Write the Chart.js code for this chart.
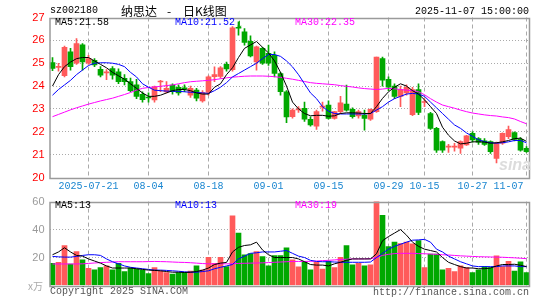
<!DOCTYPE html>
<html><head><meta charset="utf-8">
<script src="https://cdn.jsdelivr.net/npm/chart.js@4"></script>
<style>
html,body{margin:0;padding:0;background:#fff;width:545px;height:300px;overflow:hidden;position:relative;}
.t{position:absolute;white-space:nowrap;font-family:"Liberation Mono","DejaVu Sans Mono",monospace;font-size:10px;line-height:12px;}
#c1{position:absolute;left:0;top:0;}
#c2{position:absolute;left:0;top:190px;}
.ti span{display:inline-block;}
</style></head><body>
<canvas id="c1" width="545" height="200"></canvas>
<canvas id="c2" width="545" height="110"></canvas>
<div class="t" style="left:499px;top:156px;font-family:'Liberation Sans',sans-serif;font-style:italic;font-weight:bold;font-size:16px;line-height:18px;color:#dcdcdc;">sina</div>
<div class="t" style="left:50px;top:5px;color:#000;">sz002180</div>
<div class="t ti" style="left:121px;top:3px;color:#000;font-family:'Noto Sans CJK SC',sans-serif;font-size:12px;line-height:15px;"><span style="width:46px">纳思达</span><span style="width:16px">-</span><span>日K线图</span></div>
<div class="t" style="right:16px;top:6px;color:#000;">2025-11-07 15:00:00</div>
<div class="t" style="left:55px;top:17px;color:#000;">MA5:21.58</div>
<div class="t" style="left:175px;top:17px;color:#0000ff;">MA10:21.52</div>
<div class="t" style="left:235px;top:19px;color:#00a000;font-family:'DejaVu Sans',sans-serif;">↓</div>
<div class="t" style="left:295px;top:17px;color:#ff00ff;">MA30:22.35</div>
<div class="t" style="left:55px;top:200px;color:#000;">MA5:13</div>
<div class="t" style="left:175px;top:200px;color:#0000ff;">MA10:13</div>
<div class="t" style="left:295px;top:200px;color:#ff00ff;">MA30:19</div>
<div class="t" style="left:28px;top:280px;color:#aaa;font-family:'Noto Sans CJK SC',sans-serif;">x万</div>
<div class="t" style="left:50px;top:286px;color:#555;">Copyright 2025 SINA.COM</div>
<div class="t" style="right:16px;top:287px;color:#555;">http://finance.sina.com.cn</div>
<script>
const dates = ['2025-07-11','2025-07-14','2025-07-15','2025-07-16','2025-07-17','2025-07-18','2025-07-21','2025-07-22','2025-07-23','2025-07-24',
'2025-07-25','2025-07-28','2025-07-29','2025-07-30','2025-07-31','2025-08-01','2025-08-04','2025-08-05','2025-08-06','2025-08-07',
'2025-08-08','2025-08-11','2025-08-12','2025-08-13','2025-08-14','2025-08-15','2025-08-18','2025-08-19','2025-08-20','2025-08-21',
'2025-08-22','2025-08-25','2025-08-26','2025-08-27','2025-08-28','2025-08-29','2025-09-01','2025-09-02','2025-09-03','2025-09-04',
'2025-09-05','2025-09-08','2025-09-09','2025-09-10','2025-09-11','2025-09-12','2025-09-15','2025-09-16','2025-09-17','2025-09-18',
'2025-09-19','2025-09-22','2025-09-23','2025-09-24','2025-09-25','2025-09-26','2025-09-29','2025-09-30','2025-10-09','2025-10-10',
'2025-10-13','2025-10-14','2025-10-15','2025-10-16','2025-10-17','2025-10-20','2025-10-21','2025-10-22','2025-10-23','2025-10-24',
'2025-10-27','2025-10-28','2025-10-29','2025-10-30','2025-10-31','2025-11-03','2025-11-04','2025-11-05','2025-11-06','2025-11-07'];

const open = [25.03,24.82,24.45,25.50,25.00,25.80,25.00,25.13,24.73,24.58,
24.77,24.62,24.34,24.20,24.05,23.64,23.52,23.39,24.18,23.74,
24.04,23.95,23.92,23.60,23.83,23.35,23.72,24.41,24.42,24.95,
24.72,26.57,26.37,25.96,25.06,25.65,25.43,25.35,24.55,23.75,
22.66,22.96,23.03,22.55,22.25,23.08,23.17,22.59,22.88,23.21,
22.98,22.69,22.73,22.55,22.88,25.20,24.30,24.00,23.55,23.70,
22.75,23.85,23.28,22.80,22.15,21.57,21.33,21.33,21.28,21.42,
21.93,21.70,21.60,21.57,20.84,21.50,21.79,21.96,21.67,21.28];
const close = [24.77,24.86,25.70,24.85,25.86,25.06,25.20,24.92,24.48,24.62,
24.48,24.19,24.19,23.80,23.55,23.40,23.48,23.97,24.22,23.90,
23.75,23.70,23.88,23.90,23.47,23.72,24.40,24.50,24.80,24.75,
26.55,26.53,25.91,25.32,25.72,25.00,25.00,24.55,23.75,22.65,
22.95,23.00,22.55,22.30,22.88,23.12,22.59,22.88,23.27,22.95,
22.66,22.88,22.59,22.98,25.27,24.26,23.95,23.55,23.85,23.95,
23.85,22.85,23.32,22.15,21.20,21.20,21.37,21.37,21.57,21.82,
21.64,21.55,21.45,21.13,21.50,21.93,22.10,21.67,21.20,21.13];
const high = [25.25,25.00,25.75,25.65,26.08,25.86,25.35,25.20,24.85,24.72,
24.85,24.75,24.50,24.35,24.30,23.75,23.70,24.00,24.25,24.20,
24.10,24.05,24.05,24.00,23.90,23.80,24.45,24.84,24.85,25.05,
26.60,26.81,26.52,26.20,25.75,25.70,25.79,25.50,24.60,23.80,
23.00,23.10,23.30,22.65,22.95,23.30,23.35,22.90,23.55,24.04,
23.05,22.95,22.95,23.00,25.27,25.27,24.40,24.10,24.00,24.05,
23.95,24.10,23.45,22.85,22.20,21.60,21.45,21.50,21.60,21.85,
22.00,21.75,21.70,21.60,21.55,21.95,22.25,22.00,21.75,21.35];
const low = [24.67,24.65,24.40,24.70,24.95,24.70,24.95,24.85,24.40,24.28,
24.30,24.10,24.05,23.75,23.45,23.30,23.30,23.30,23.75,23.70,
23.65,23.60,23.75,23.50,23.35,23.30,23.60,24.19,24.35,24.65,
24.65,26.23,25.79,25.28,24.70,24.95,24.90,24.40,23.60,22.40,
22.60,22.85,22.45,22.25,22.10,22.90,22.55,22.55,22.80,22.90,
22.60,22.60,22.07,22.50,22.85,24.00,23.80,23.45,23.10,23.60,
22.70,22.75,23.10,22.10,21.10,21.10,21.10,21.15,21.05,21.40,
21.55,21.45,21.40,21.05,20.64,21.45,21.70,21.60,21.15,21.10];
const volume = [15.8,16.5,28.6,15.3,24.2,18.4,12.2,11.2,12.9,14.1,
11.2,15.8,10.0,12.4,11.7,11.0,8.5,12.9,10.4,9.2,
8.1,9.2,9.2,10.4,14.1,11.0,20.1,15.8,20.1,13.5,
49.8,37.5,22.0,22.9,24.2,20.6,14.1,21.4,21.4,26.9,
18.4,13.4,17.0,11.2,16.5,11.7,17.2,12.9,20.1,28.6,
14.8,15.8,14.1,14.8,62.0,50.2,27.8,31.0,30.0,31.0,
29.8,32.2,12.9,22.5,22.5,11.2,12.2,10.0,14.1,12.9,
9.2,11.2,13.5,12.9,21.3,13.5,17.2,10.4,17.0,9.2];
const ma5 = [24.0,24.5,24.85,25.05,25.2,25.25,25.25,25.1,24.95,24.8,
24.6,24.45,24.3,24.1,23.9,23.7,23.55,23.55,23.6,23.7,
23.8,23.85,23.85,23.8,23.7,23.65,23.65,23.95,24.1,24.5,
24.8,25.25,25.65,25.8,25.95,25.7,25.45,25.1,24.6,24.0,
23.3,23.0,22.8,22.7,22.72,22.72,22.68,22.7,22.8,22.83,
22.83,22.82,22.8,22.8,23.1,23.46,23.75,23.95,24.1,24.0,
23.8,23.65,23.4,23.1,22.8,22.2,21.85,21.6,21.47,21.5,
21.56,21.56,21.55,21.5,21.52,21.56,21.62,21.7,21.72,21.58];
const ma10 = [23.6,23.85,24.05,24.25,24.5,24.7,24.9,25.0,25.02,25.02,
25.0,24.95,24.85,24.6,24.4,24.1,23.95,23.82,23.8,23.78,
23.77,23.77,23.75,23.73,23.72,23.7,23.68,23.8,23.95,24.15,
24.4,24.55,24.7,24.85,25.0,25.2,25.38,25.38,25.3,25.1,
24.84,24.5,24.1,23.7,23.45,23.1,22.9,22.8,22.78,22.78,
22.78,22.78,22.78,22.8,22.95,23.1,23.3,23.45,23.55,23.65,
23.68,23.65,23.55,23.3,23.05,22.8,22.55,22.3,22.15,21.95,
21.8,21.65,21.57,21.52,21.5,21.52,21.56,21.62,21.62,21.52];
const ma30 = [22.66,22.76,22.86,22.96,23.05,23.13,23.21,23.28,23.35,23.41,
23.47,23.55,23.63,23.72,23.82,23.9,23.94,23.96,23.99,24.02,
24.05,24.1,24.15,24.19,24.21,24.23,24.25,24.28,24.32,24.36,
24.39,24.41,24.43,24.44,24.44,24.44,24.43,24.41,24.38,24.34,
24.3,24.25,24.2,24.15,24.12,24.1,24.08,24.06,24.02,23.99,
23.96,23.92,23.89,23.87,23.85,23.87,23.9,23.88,23.85,23.82,
23.8,23.75,23.62,23.45,23.3,23.17,23.1,23.03,22.95,22.88,
22.82,22.78,22.74,22.71,22.69,22.65,22.62,22.56,22.45,22.35];
const vma5 = [22,24,27,24,21.5,21,19,17.5,16,14,
12.5,12.5,12.5,12.5,12,11.5,11,10.8,10.5,10,
9.5,9.5,9.3,9.5,10,11,12.5,15,16,16.5,
24,27.3,28.6,29.1,31,25.4,22,20,20,20,
20,19,17,15,14.6,14.6,14,15.5,16.6,18,
19,19,19,19,22.7,32,35,37.5,40,36,
31,28,26,25,24,20,16.6,15,13.5,12.5,
12.5,12,12,12.5,14,15,15,15.2,14.5,13.5];
const vma10 = [20.8,20.5,20.3,20.3,20.8,21.5,22,22,21.5,19,
17,15.5,14,13,12.5,12,11.5,11,11,10.8,
10.5,10.2,9.8,9.5,9.5,10,10.5,12,13,14,
15,19,21,23,23.4,24,24,24,24.5,25,
23,21,20,18,17.2,17,17,16.8,16.6,16.6,
16.6,16.6,16.6,16.8,20,23,26,28,29.5,31,
32.4,32.6,33,31,26,24,21,19,17,15.5,
14,13.5,13.5,13.5,13.5,14,14,14,13.5,13.5];
const vma30 = [15.4,15.4,15.4,15.4,15.4,15.5,15.8,16.1,16.4,16.6,
16.8,17,17,17,17,17,17.1,17.2,17.1,17,
16.8,16.6,16.5,16.3,16,15.7,15.5,15.5,15.5,15.5,
15.6,15.8,15.9,16,16.1,16.2,16.4,16.6,16.8,17,
17.2,17.2,17.2,17.3,17.5,17.8,18,18.3,18.6,18.8,
19,19,19,19.2,20,21.5,22.3,22.8,23,23,
23,22.8,22.7,22.5,22.3,22,21.8,21.5,21.2,21,
20.8,20.6,20.5,20.4,20.3,20.2,20,19.8,19.5,19.2];
const tickLabels = ['2025-07-21','08-04','08-18','09-01','09-15','09-29','10-15','10-27','11-07'];
const priceTicks = [20,21,22,23,24,25,26,27];
const volTicks = [0,20,40,60];

const UP = '#ff5a5a', DOWN = '#00a800', GRID = '#aaaaaa', FRAME = '#9a9a9a';
const MONO = '"Liberation Mono","DejaVu Sans Mono",monospace';
const colors = close.map((c, i) => c >= open[i] ? UP : DOWN);
const tickIdx = tickLabels.map(l => dates.findIndex(d => d.endsWith(l.slice(-5))));
const lastIdx = dates.length - 1;

const framePlugin = {
  id: 'frame',
  afterDraw(chart) {
    const a = chart.chartArea, ctx = chart.ctx;
    ctx.save();
    ctx.strokeStyle = FRAME; ctx.lineWidth = 1.5;
    ctx.strokeRect(50, Math.round(a.top) + 0.5, 479.5, Math.round(a.bottom - a.top));
    ctx.restore();
  }
};
const lineDs = (d, c) => ({type: 'line', data: d, borderColor: c, borderWidth: 1, pointRadius: 0, tension: 0, fill: false});
const xGrid = {offset: false, drawTicks: false, lineWidth: 1, color: ctx => tickIdx.includes(ctx.index) ? GRID : 'rgba(0,0,0,0)'};
const fixX = h => s => { s.height = h; s.paddingLeft = 0; s.paddingRight = 0; };

new Chart(document.getElementById('c1'), {
  type: 'bar',
  data: {
    labels: dates,
    datasets: [
      lineDs(ma5, '#000000'), lineDs(ma10, '#0000ff'), lineDs(ma30, '#ff00ff'),
      {data: dates.map((d, i) => [open[i], close[i]]), backgroundColor: colors, barThickness: 5, grouped: false, minBarLength: 1},
      {data: dates.map((d, i) => [low[i], high[i]]), backgroundColor: colors, barThickness: 1, grouped: false}
    ]
  },
  options: {
    responsive: false, animation: false,
    plugins: {legend: {display: false}, tooltip: {enabled: false}},
    layout: {padding: {left: 0, right: 15.5, top: 17.5, bottom: 0}},
    scales: {
      x: {
        offset: true, grid: xGrid, border: {display: false, dash: [4, 3]},
        ticks: {autoSkip: false, maxRotation: 0, padding: 3, color: '#1a86d0', font: {family: MONO, size: 10},
          callback: (v, i) => {
            const k = tickIdx.indexOf(i);
            if (k < 0) return '';
            // keep the last label inside the frame
            return i === lastIdx ? tickLabels[k] + '      ' : tickLabels[k];
          }},
        afterFit: fixX(22.5)
      },
      y: {
        min: priceTicks[0], max: priceTicks[priceTicks.length - 1],
        afterBuildTicks: s => { s.ticks = priceTicks.map(v => ({value: v})); },
        ticks: {color: '#ff0000', padding: 5, font: {family: '"Liberation Sans",Arial,sans-serif', size: 11}},
        grid: {drawTicks: false, color: ctx => (ctx.tick && ctx.tick.value > 20 && ctx.tick.value < 27) ? GRID : 'rgba(0,0,0,0)'},
        border: {display: false, dash: [1, 2]},
        afterFit: s => { s.width = 49.5; }
      }
    }
  },
  plugins: [framePlugin]
});

new Chart(document.getElementById('c2'), {
  type: 'bar',
  data: {
    labels: dates,
    datasets: [
      lineDs(vma5, '#000000'), lineDs(vma10, '#0000ff'), lineDs(vma30, '#ff00ff'),
      {data: volume, backgroundColor: colors, barThickness: 5, grouped: false}
    ]
  },
  options: {
    responsive: false, animation: false,
    plugins: {legend: {display: false}, tooltip: {enabled: false}},
    layout: {padding: {left: 0, right: 15.5, top: 11.5, bottom: 0}},
    scales: {
      x: {
        offset: true, grid: xGrid, border: {display: false, dash: [4, 3]},
        ticks: {display: false, autoSkip: false},
        afterFit: fixX(14.5)
      },
      y: {
        min: 0, max: 60,
        afterBuildTicks: s => { s.ticks = volTicks.map(v => ({value: v})); },
        ticks: {color: '#9a9a9a', padding: 5, font: {family: '"Liberation Sans",Arial,sans-serif', size: 11},
          callback: v => v === 0 ? '' : v},
        grid: {drawTicks: false, color: ctx => (ctx.tick && ctx.tick.value > 0 && ctx.tick.value < 60) ? GRID : 'rgba(0,0,0,0)'},
        border: {display: false, dash: [1, 2]},
        afterFit: s => { s.width = 49.5; }
      }
    }
  },
  plugins: [framePlugin]
});
</script>
</body></html>
